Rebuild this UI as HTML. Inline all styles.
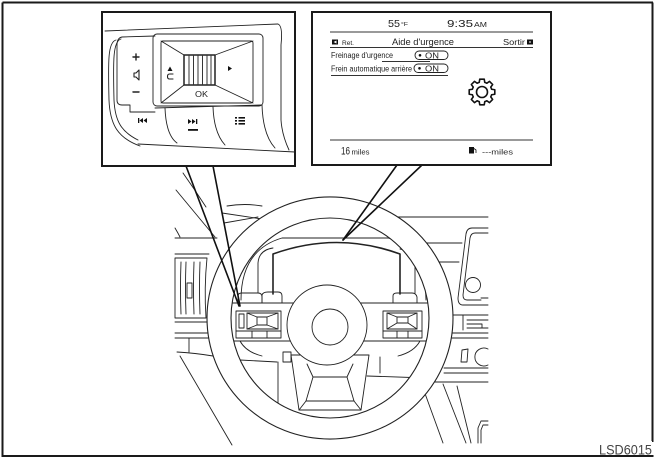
<!DOCTYPE html>
<html><head><meta charset="utf-8">
<style>
html,body{margin:0;padding:0;background:#fff;}
svg{display:block;}
text{font-family:"Liberation Sans",sans-serif;fill:#222;}
</style></head><body>
<svg width="661" height="461" viewBox="0 0 661 461" xmlns="http://www.w3.org/2000/svg">
<rect width="661" height="461" fill="#fff"/>

<!-- outer frame -->
<g stroke="#1a1a1a" stroke-width="2" fill="none">
  <line x1="2.5" y1="2.5" x2="653" y2="2.5"/>
  <line x1="2.5" y1="2.5" x2="2.5" y2="456"/>
  <line x1="1.5" y1="456" x2="653.5" y2="456"/>
  <line x1="652.5" y1="2.5" x2="652.5" y2="442"/>
</g>
<rect x="597" y="441" width="55" height="13.5" fill="#fff"/>
<text x="652" y="454.5" font-size="13.5" text-anchor="end" style="fill:#444" textLength="53" lengthAdjust="spacingAndGlyphs">LSD6015</text>

<!-- ================= MAIN DRAWING ================= -->
<g fill="none" stroke="#222" stroke-width="0.9" stroke-linecap="round" stroke-linejoin="round">
  <!-- left dashboard lines -->
  <path d="M176,190 L215,237"/>
  <path d="M183,173 Q195,190 206,207"/>
  <path d="M175,238 L217,238"/>
  <path d="M175,228 Q178,233 180,237"/>
  <path d="M222,213 L262,219"/>
  <path d="M224,223 L258,217"/>
  <path d="M227,206 Q245,203 262,206"/>
  <!-- vent -->
  <path d="M175,254 L209,254"/>
  <path d="M175,258 L207,258 Q204,288 206,318 L175,318 Z"/>
  <path d="M181,262 Q180,288 181,314"/>
  <path d="M186,262 Q185,288 186,314"/>
  <path d="M194,262 Q193,288 194,314"/>
  <path d="M200,262 Q199,288 200,314"/>
  <rect x="187" y="283" width="5" height="15"/>
  <path d="M175,322 L207,322"/>
  <!-- below vent -->
  <path d="M175,333 L210,333"/>
  <path d="M175,338 L211,338"/>
  <path d="M189,338 L189,352"/>
  <path d="M177,352 Q195,353 213,356"/>
  <path d="M180,356 L232,445"/>

  <!-- right dashboard lines -->
  <path d="M398,217 L488,217"/>
  <path d="M426,243 L462,243"/>
  <path d="M434,262 L459,262"/>
  <path d="M488,228 L472,228 Q467,228 466,234 L458,298 Q458,305 463,305 L488,305"/>
  <path d="M488,233 L475,233 Q471,233 470,238 L463,295 Q463,300 467,300 L481,300"/>
  <circle cx="473" cy="285" r="7.5"/>
  <path d="M481,298 L488,298"/>
  <path d="M452,315 L488,315"/>
  <path d="M463,315 L463,330"/>
  <path d="M467,320 L488,320"/>
  <path d="M467,324 L482,324 L482,328"/>
  <path d="M467,328 L488,328"/>
  <path d="M452,333 L488,333"/>
  <path d="M452,338 L488,338"/>
  <path d="M462,350 L468,349 L467,362 L461,362 Z"/>
  <path d="M488,349 A9,9 0 1,0 488,365"/>
  <path d="M444,368 L488,368"/>
  <path d="M444,373 L488,373"/>
  <path d="M430,382 L488,382"/>
  <path d="M423,388 L443,443"/>
  <path d="M443,384 L466,443"/>
  <path d="M457,386 L471,443"/>
  <path d="M488,421 L481,421 L478,428 L478,443"/>
  <path d="M488,425 L483,425 L481,430 L481,443"/>

  <!-- hood & cluster (inside wheel) -->
  <path d="M241,300 Q241,250 282,238 L388,238 Q425,248 426,300"/>
  <path d="M258,293 L258,263 Q259,250 273,248"/>
  <path d="M415,293 L415,263 Q413,251 400,249"/>
  <path d="M273,294 L273,254 Q337,231 400,254 L400,294" stroke-width="1.6"/>
  <path d="M238,303 L238,296 Q238,293 242,293 L258,293 Q262,293 262,297 L262,303"/>
  <path d="M262,303 L262,295 Q263,292 268,292 L278,292 Q282,292 282,296 L282,303"/>
  <path d="M393,303 L393,296 Q393,293 397,293 L412,293 Q416,293 417,297 L417,303"/>

  <!-- lower interior lines -->
  <path d="M240,360 L277,362"/>
  <path d="M278,362 L278,404"/>
  <path d="M283,352 L283,362 L291,362 L291,352 Z"/>
  <path d="M367,376 L426,378"/>
  <path d="M380,357 L380,373"/>

  <!-- spoke bar -->
  <path d="M226,303 L434,303 L434,341 L226,341 Z" fill="#fff"/>
  <path d="M240,341 Q246,352 262,356"/>
  <path d="M420,341 Q414,352 398,356"/>

  <!-- bottom spoke -->
  <path d="M291,355 L299,410 L361,410 L369,355 Z" fill="#fff"/>
  <path d="M313,377 L347,377 L354,401 L306,401 Z"/>
  <path d="M299,410 L306,401 M361,410 L354,401 M313,377 L307,364 M347,377 L353,364"/>

  <!-- rim -->
  <path fill="#fff" fill-rule="evenodd" stroke-width="1.1"
        d="M207,318 A123,121 0 1,0 453,318 A123,121 0 1,0 207,318 Z M231,318 A99,100 0 1,0 429,318 A99,100 0 1,0 231,318 Z"/>

  <!-- hub -->
  <circle cx="327" cy="325" r="40" fill="#fff"/>
  <circle cx="330" cy="327" r="18"/>

  <!-- left switch -->
  <rect x="236" y="311" width="45" height="27" fill="#fff"/>
  <path d="M236,331 L281,331 M252,331 L252,338 M267,331 L267,338"/>
  <rect x="247" y="313" width="31" height="16"/>
  <rect x="257" y="317" width="10" height="8"/>
  <path d="M247,313 L257,317 M278,313 L267,317 M247,329 L257,325 M278,329 L267,325"/>
  <rect x="239" y="314" width="5" height="14"/>
  <!-- right switch -->
  <rect x="383" y="311" width="39" height="27" fill="#fff"/>
  <path d="M383,331 L422,331 M397,331 L397,338 M408,331 L408,338"/>
  <rect x="387" y="313" width="30" height="16"/>
  <rect x="397" y="317" width="11" height="6"/>
  <path d="M387,313 L397,317 M417,313 L408,317 M387,329 L397,323 M417,329 L408,323"/>
</g>

<!-- pointer lines -->
<g stroke="#111" stroke-width="1.6" fill="none" stroke-linecap="round">
  <path d="M186,166 L239,306"/>
  <path d="M213,166 L240,306"/>
  <path d="M397,165 L343,240"/>
  <path d="M422,165 L343,240"/>
</g>

<!-- ================= LEFT CALLOUT ================= -->
<rect x="102" y="12" width="193" height="154" fill="#fff" stroke="#1a1a1a" stroke-width="2"/>
<g fill="none" stroke="#222" stroke-width="0.9" stroke-linecap="round" stroke-linejoin="round">
  <path d="M105,31 L278,24 Q283,26 281,45 L281,120 Q282,135 289,150"/>
  <path d="M138,144 L295,152"/>
  <path d="M116,40 C108,42 108,60 109,100 C110,125 118,138 140,146"/>
  <path d="M121,39 C113,41 113,60 114,100 C115,122 122,132 138,140"/>
  <path d="M155,36 L122,37 Q117,38 117,45 L117,100 Q117,105 122,105 L130,105 L130,112 L155,112"/>
  <rect x="153" y="34" width="110" height="72" rx="4"/>
  <path d="M155,108 L262,105"/>
  <rect x="161" y="41" width="92" height="62" rx="2"/>
  <path d="M161,41 L184,55 M253,41 L215,55 M161,103 L184,85 M253,103 L215,85"/>
  <rect x="184" y="55" width="31" height="30" stroke-width="1.5"/>
  <path d="M189,56 L189,84 M193.5,56 L193.5,84 M198,56 L198,84 M202.5,56 L202.5,84 M207,56 L207,84 M211,56 L211,84"/>
  <path d="M165,108 Q166,135 177,143"/>
  <path d="M213,107 Q214,133 225,145"/>
  <path d="M262,105 Q263,135 275,148"/>
  <!-- U icon -->
  <path d="M173,74 L169.5,74 Q167.5,74 167.5,76.5 Q167.5,79 169.5,79 L173,79" stroke-width="1.1"/>
  <!-- plus / minus -->
  <path d="M133,57 L139,57 M136,54 L136,60" stroke-width="1.4"/>
  <path d="M133,92 L139,92" stroke-width="1.4"/>
  <path d="M134,73 L136,73 L139,70 L139,80 L136,77 L134,77 Z" stroke-width="1.1"/>
</g>
<g fill="#111">
  <polygon points="170,66.5 172.5,71 167.5,71"/>
  <polygon points="228,66 232,68.5 228,71"/>
  <!-- prev -->
  <rect x="138" y="118" width="1.3" height="5"/>
  <polygon points="143,118 139.5,120.5 143,123"/>
  <polygon points="147,118 143.5,120.5 147,123"/>
  <!-- next -->
  <polygon points="188,119 191.5,121.5 188,124"/>
  <polygon points="192,119 195.5,121.5 192,124"/>
  <rect x="196" y="119" width="1.3" height="5"/>
  <rect x="188" y="129" width="10" height="1.8"/>
  <!-- list -->
  <rect x="235" y="117" width="2" height="1.6"/>
  <rect x="235" y="120" width="2" height="1.6"/>
  <rect x="235" y="123" width="2" height="1.6"/>
  <rect x="238.5" y="117" width="6.5" height="1.6"/>
  <rect x="238.5" y="120" width="6.5" height="1.6"/>
  <rect x="238.5" y="123" width="6.5" height="1.6"/>
</g>
<text x="195" y="97" font-size="8" textLength="13" lengthAdjust="spacingAndGlyphs">OK</text>

<!-- ================= RIGHT CALLOUT ================= -->
<rect x="312" y="12" width="239" height="153" fill="#fff" stroke="#1a1a1a" stroke-width="2"/>
<text x="388" y="27" font-size="10.5" textLength="12" lengthAdjust="spacingAndGlyphs">55</text>
<text x="401" y="26" font-size="5.5" textLength="7" lengthAdjust="spacingAndGlyphs">°F</text>
<text x="447" y="27" font-size="10.5" textLength="26" lengthAdjust="spacingAndGlyphs">9:35</text>
<text x="474" y="27" font-size="7.5" textLength="13" lengthAdjust="spacingAndGlyphs">AM</text>
<g stroke="#333" stroke-width="0.9">
  <line x1="330" y1="32" x2="533" y2="32"/>
  <line x1="330" y1="47.5" x2="533" y2="47.5"/>
  <line x1="382" y1="61.5" x2="430" y2="61.5"/>
  <line x1="331" y1="75.5" x2="448" y2="75.5"/>
  <line x1="330" y1="140" x2="533" y2="140"/>
</g>
<rect x="332" y="39.5" width="6" height="5" fill="#111"/>
<polygon points="336.5,40.5 333.5,42 336.5,43.5" fill="#fff"/>
<text x="342" y="45" font-size="6.5" textLength="12" lengthAdjust="spacingAndGlyphs">Ret.</text>
<text x="392" y="45" font-size="9" textLength="62" lengthAdjust="spacingAndGlyphs">Aide d'urgence</text>
<text x="503" y="45" font-size="8" textLength="22" lengthAdjust="spacingAndGlyphs">Sortir</text>
<rect x="527" y="39.5" width="6" height="5" fill="#111"/>
<rect x="529" y="41.5" width="2" height="1" fill="#fff"/>

<text x="331" y="58" font-size="8" textLength="62" lengthAdjust="spacingAndGlyphs">Freinage d'urgence</text>
<rect x="415" y="51" width="33" height="8.5" rx="4.2" fill="none" stroke="#222" stroke-width="0.9"/>
<circle cx="420" cy="55.3" r="1.3" fill="#111"/>
<text x="425" y="58.5" font-size="8" textLength="14" lengthAdjust="spacingAndGlyphs">ON</text>

<text x="331" y="71.5" font-size="8" textLength="81" lengthAdjust="spacingAndGlyphs">Frein automatique arrière</text>
<rect x="414" y="64" width="34" height="8.5" rx="4.2" fill="none" stroke="#222" stroke-width="0.9"/>
<circle cx="419.5" cy="68.3" r="1.3" fill="#111"/>
<text x="425" y="71.5" font-size="8" textLength="14" lengthAdjust="spacingAndGlyphs">ON</text>

<!-- gear -->
<g transform="translate(482,92)" fill="none" stroke="#111" stroke-width="1.6" stroke-linejoin="round">
  <polygon points="9.61,-2.76 12.80,-2.26 12.80,2.26 9.61,2.76 9.24,3.83 8.75,4.85 10.65,7.46 7.46,10.65 4.85,8.75 3.83,9.24 2.76,9.61 2.26,12.80 -2.26,12.80 -2.76,9.61 -3.83,9.24 -4.85,8.75 -7.46,10.65 -10.65,7.46 -8.75,4.85 -9.24,3.83 -9.61,2.76 -12.80,2.26 -12.80,-2.26 -9.61,-2.76 -9.24,-3.83 -8.75,-4.85 -10.65,-7.46 -7.46,-10.65 -4.85,-8.75 -3.83,-9.24 -2.76,-9.61 -2.26,-12.80 2.26,-12.80 2.76,-9.61 3.83,-9.24 4.85,-8.75 7.46,-10.65 10.65,-7.46 8.75,-4.85 9.24,-3.83"/>
  <circle cx="0" cy="0" r="5.5"/>
</g>

<text x="341" y="154.5" font-size="11" textLength="9" lengthAdjust="spacingAndGlyphs">16</text>
<text x="351.5" y="154.5" font-size="7" textLength="18" lengthAdjust="spacingAndGlyphs">miles</text>
<rect x="469" y="147" width="5" height="6.5" fill="#111"/>
<path d="M474,148.5 L476,150 L476,153" fill="none" stroke="#111" stroke-width="0.8"/>
<text x="482" y="154.5" font-size="7.5" textLength="31" lengthAdjust="spacingAndGlyphs">---miles</text>
</svg>
</body></html>
